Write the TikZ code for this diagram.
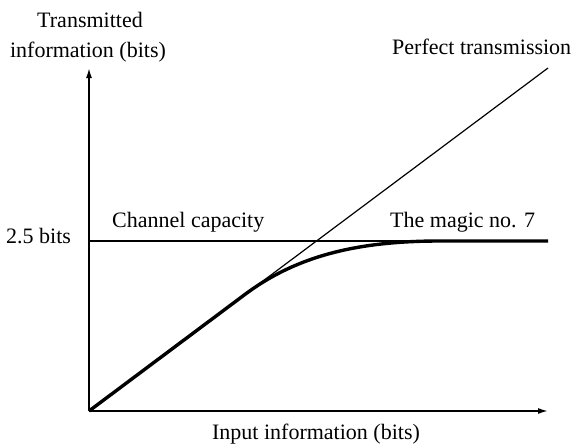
\documentclass[tikz,border=0pt]{standalone}
\usepackage{fontspec}
\setmainfont{Liberation Serif}
\usetikzlibrary{arrows.meta}
\begin{document}
\begin{tikzpicture}[x=1pt,y=-1pt,
  lbl/.style={font=\fontsize{22}{30}\selectfont, inner sep=0pt},
  axis/.style={line width=1.6pt, -{Latex[length=10pt,width=6pt]}},
  thin/.style={line width=1.2pt},
  thick curve/.style={line width=3.4pt, line join=round}]
  \useasboundingbox (0,0) rectangle (575,444);

  % key points of the plot
  \coordinate (O) at (89,411);
  \coordinate (ytop) at (89,68);
  \coordinate (xend) at (548,411);
  \coordinate (capL) at (89,241);
  \coordinate (capR) at (548,241);
  \coordinate (diagEnd) at (548,68);
  \coordinate (bendA) at (245,294.4);
  \coordinate (bendB) at (440,241);

  % axes
  \draw[axis] (O) -- (ytop);
  \draw[axis] (O) -- (xend);

  % channel capacity and perfect transmission
  \draw[thin] (capL) -- (capR);
  \draw[thin] (O) -- (diagEnd);

  % real transmission curve
  \draw[thick curve] (O) -- (bendA) .. controls (298,254.8) and (360,241) .. (bendB) -- (capR);

  % labels
  \node[lbl, anchor=base] (ylab1) at (90,28) {Transmitted};
  \node[lbl, anchor=base] (ylab2) at (88,58) {information (bits)};
  \node[lbl, anchor=base west] (perf) at (392,55) {Perfect transmission};
  \node[lbl, anchor=base west] (bits) at (6,243) {2.5 bits};
  \node[lbl, anchor=base west] (chan) at (112,227) {Channel capacity};
  \node[lbl, anchor=base west] (magic) at (390,227) {The magic no. 7};
  \node[lbl, anchor=base] (xlab) at (316,439) {Input information (bits)};
\end{tikzpicture}
\end{document}
